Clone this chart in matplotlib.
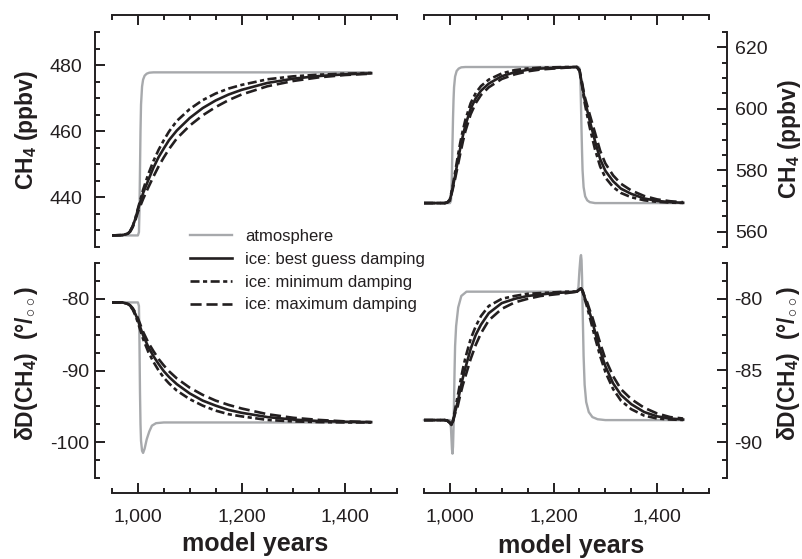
import matplotlib
matplotlib.use('Agg')
import matplotlib.pyplot as plt
import matplotlib.ticker as mticker

# ---- data ------------------------------------------------------------
# top left: CH4 step (ppbv)
atm_tl_years = [950, 1000, 1002, 1003, 1004, 1005, 1006, 1008, 1010, 1013, 1017, 1022, 1030, 1450]
atm_tl = [428.5, 428.5, 429.5, 436, 448, 460, 468, 473.5, 475.6, 476.8, 477.4, 477.7, 477.8, 477.8]

ice_left_years = [950, 970, 980, 985, 990, 995, 1000, 1010, 1020, 1030, 1040, 1050, 1060,
                  1075, 1100, 1125, 1150, 1175, 1200, 1250, 1300, 1350, 1400, 1450]
ch4_tl_best = [428.5, 428.6, 429.0, 429.8, 431.3, 433.5, 436.3, 441.3, 445.2, 449.0, 452.2, 454.8, 457.3,
               460.2, 464.0, 467.0, 469.3, 471.1, 472.5, 474.6, 475.9, 476.7, 477.2, 477.5]
ch4_tl_min = [428.5, 428.6, 429.0, 429.8, 431.3, 433.6, 436.6, 442.3, 447.0, 451.0, 454.4, 457.3, 459.9,
              463.1, 466.7, 469.4, 471.4, 472.9, 474.0, 475.7, 476.6, 477.1, 477.4, 477.6]
ch4_tl_max = [428.5, 428.6, 428.9, 429.6, 431.0, 433.0, 435.6, 439.5, 443.0, 446.3, 449.4, 452.1, 454.6,
              457.8, 461.7, 464.8, 467.3, 469.4, 471.1, 473.6, 475.2, 476.3, 477.0, 477.4]

# bottom left: dD(CH4) step (permil)
atm_bl_years = [950, 1000, 1002, 1003, 1004, 1005, 1006, 1008, 1010, 1013, 1017, 1022, 1027, 1035, 1050, 1450]
atm_bl = [-80.5, -80.5, -81.0, -86.0, -93.0, -97.5, -99.8, -101.2, -101.5, -100.9, -99.6, -98.5, -97.7,
          -97.35, -97.25, -97.25]
dd_bl_best = [-80.5, -80.5, -80.7, -80.95, -81.4, -82.1, -83.0, -85.1, -86.7, -88.0, -89.1, -90.1, -90.9,
              -91.9, -93.2, -94.2, -94.9, -95.5, -95.9, -96.5, -96.85, -97.05, -97.15, -97.2]
dd_bl_min = [-80.5, -80.5, -80.7, -81.0, -81.5, -82.3, -83.3, -85.6, -87.4, -88.8, -90.0, -91.0, -91.8,
             -92.8, -94.0, -94.9, -95.6, -96.1, -96.4, -96.9, -97.1, -97.2, -97.25, -97.25]
dd_bl_max = [-80.5, -80.5, -80.65, -80.9, -81.3, -81.9, -82.7, -84.6, -86.1, -87.3, -88.4, -89.3, -90.1,
             -91.1, -92.4, -93.4, -94.2, -94.8, -95.3, -96.1, -96.6, -96.9, -97.1, -97.2]

# top right: CH4 pulse (ppbv)
atm_tr_years = [950, 1000, 1002, 1003, 1004, 1005, 1006, 1007, 1008, 1010, 1013, 1017, 1022, 1030,
                1248, 1250, 1251, 1252, 1253, 1254, 1255, 1256, 1258, 1261, 1265, 1270, 1280, 1450]
atm_tr = [569.3, 569.3, 570, 573, 580, 589, 597, 603, 607, 610.5, 612.3, 613.1, 613.5, 613.6,
          613.6, 613.2, 612, 608, 601, 593, 586, 580, 574.5, 571.5, 570.2, 569.6, 569.3, 569.3]

ice_right_years = [950, 990, 995, 1000, 1005, 1010, 1015, 1020, 1025, 1030, 1040, 1050, 1060, 1075,
                   1100, 1125, 1150, 1175, 1200, 1225, 1245, 1250, 1255, 1260, 1265, 1270, 1280,
                   1290, 1300, 1315, 1330, 1350, 1375, 1400, 1425, 1450]
ch4_tr_best = [569.3, 569.3, 569.5, 570.3, 574.0, 578.2, 582.8, 587.2, 591.2, 594.7, 600.0, 603.5, 605.9,
               608.2, 610.6, 611.9, 612.7, 613.1, 613.3, 613.5, 613.6, 612.5, 608.0, 603.0, 599.5,
               596.0, 589.5, 583.6, 579.8, 576.4, 574.0, 572.3, 570.8, 570.0, 569.6, 569.4]
ch4_tr_min = [569.3, 569.3, 569.5, 570.5, 574.5, 579.3, 584.3, 589.0, 593.0, 596.5, 601.8, 605.2, 607.4,
              609.5, 611.5, 612.6, 613.1, 613.4, 613.5, 613.6, 613.6, 612.3, 607.5, 602.0, 597.8,
              593.8, 586.8, 581.2, 577.6, 574.5, 572.6, 571.2, 570.2, 569.7, 569.45, 569.35]
ch4_tr_max = [569.3, 569.3, 569.5, 570.1, 573.5, 577.2, 581.3, 585.4, 589.3, 592.8, 598.2, 601.9, 604.5,
              607.0, 609.7, 611.2, 612.2, 612.8, 613.1, 613.4, 613.6, 612.7, 608.5, 604.0, 601.0,
              598.0, 592.2, 586.3, 582.2, 578.3, 575.6, 573.4, 571.6, 570.5, 569.9, 569.6]

# bottom right: dD(CH4) pulse (permil)
atm_br_years = [950, 1000, 1002, 1004, 1005, 1006, 1007, 1008, 1009, 1010, 1012, 1016, 1022, 1032,
                1245, 1248, 1250, 1252, 1253, 1254, 1255, 1256, 1258, 1260, 1263, 1268, 1275, 1285,
                1300, 1450]
atm_br = [-88.46, -88.46, -89.0, -90.5, -90.8, -90.3, -89.0, -87.0, -85.0, -83.3, -81.9, -80.6, -79.8,
          -79.5, -79.5, -79.2, -78.0, -77.1, -76.95, -77.3, -78.5, -80.5, -84.0, -86.0, -87.2, -87.9,
          -88.25, -88.4, -88.46, -88.46]

ice_br_years = [950, 990, 995, 1000, 1003, 1006, 1010, 1015, 1020, 1025, 1030, 1040, 1050, 1060, 1075,
                1100, 1125, 1150, 1175, 1200, 1225, 1245, 1250, 1253, 1256, 1260, 1265, 1270, 1275,
                1280, 1290, 1300, 1315, 1330, 1350, 1375, 1400, 1425, 1450]
dd_br_best = [-88.46, -88.46, -88.5, -88.65, -88.8, -88.5, -87.9, -87.2, -86.3, -85.5, -84.8, -83.5,
              -82.5, -81.8, -81.0, -80.3, -80.0, -79.8, -79.7, -79.6, -79.55, -79.5, -79.35, -79.27,
              -79.45, -79.9, -80.4, -81.0, -81.6, -82.3, -83.6, -84.7, -85.9, -86.7, -87.35, -87.9,
              -88.2, -88.35, -88.42]
dd_br_min = [-88.46, -88.46, -88.5, -88.65, -88.8, -88.45, -87.7, -86.8, -85.8, -84.9, -84.1, -82.8,
             -81.9, -81.2, -80.5, -80.0, -79.8, -79.65, -79.6, -79.55, -79.5, -79.5, -79.35, -79.27,
             -79.5, -80.0, -80.6, -81.3, -82.0, -82.7, -84.0, -85.1, -86.3, -87.1, -87.7, -88.15,
             -88.35, -88.42, -88.45]
dd_br_max = [-88.46, -88.46, -88.5, -88.65, -88.8, -88.55, -88.0, -87.5, -86.7, -86.0, -85.4, -84.2,
             -83.2, -82.4, -81.5, -80.7, -80.25, -80.0, -79.8, -79.7, -79.6, -79.5, -79.35, -79.27,
             -79.42, -79.85, -80.25, -80.8, -81.3, -81.9, -83.1, -84.2, -85.4, -86.3, -87.0, -87.6,
             -88.0, -88.25, -88.35]

legend_labels = ['atmosphere', 'ice: best guess damping', 'ice: minimum damping', 'ice: maximum damping']

# ---- style -------------------------------------------------------------
INK = '#231f20'
GRAY = '#a7a9ac'
plt.rcParams['font.family'] = ['Liberation Sans', 'DejaVu Sans']
plt.rcParams['mathtext.fontset'] = 'custom'
plt.rcParams['mathtext.rm'] = 'Liberation Sans:bold'
plt.rcParams['mathtext.it'] = 'Liberation Sans:bold'
plt.rcParams['mathtext.bf'] = 'Liberation Sans:bold'
plt.rcParams['lines.scale_dashes'] = False

W, H = 803, 559
fig = plt.figure(figsize=(W / 100, H / 100), dpi=100)


def box(x0, y0, x1, y1):
    # pixel box -> figure fraction
    return [x0 / W, 1 - y1 / H, (x1 - x0) / W, (y1 - y0) / H]


def style(ax, xside, yside, ypad, xoff, yoff):
    for s in ['top', 'bottom', 'left', 'right']:
        ax.spines[s].set_visible(s in (xside, yside))
        ax.spines[s].set_linewidth(1.4)
        ax.spines[s].set_color(INK)
    ax.spines[xside].set_position(('outward', xoff))
    ax.spines[yside].set_position(('outward', yoff))
    ax.xaxis.set_ticks_position(xside)
    ax.yaxis.set_ticks_position(yside)
    ax.set_xlim(950, 1500)
    ax.xaxis.set_major_locator(mticker.MultipleLocator(200))
    ax.xaxis.set_minor_locator(mticker.MultipleLocator(50))
    ax.xaxis.set_major_formatter(mticker.StrMethodFormatter('{x:,.0f}'))
    ax.tick_params(which='both', direction='in', width=1.4, color=INK, labelcolor=INK, labelsize=14)
    ax.tick_params(which='major', length=7.5)
    ax.tick_params(which='minor', length=3.8)
    ax.tick_params(axis='y', pad=ypad)
    ax.tick_params(axis='x', pad=11.5)
    if xside == 'top':
        ax.tick_params(axis='x', labeltop=False, labelbottom=False)
    ax.patch.set_visible(False)


def draw(ax, ay, av, iy, best, mn, mx, clip=True):
    ax.plot(ay, av, color=GRAY, lw=1.7, clip_on=clip, zorder=2)
    ax.plot(iy, best, color=INK, lw=1.9, zorder=3)
    ax.plot(iy, mn, color=INK, lw=1.9, dashes=(6.5, 2.5, 3, 2.5), zorder=3)
    ax.plot(iy, mx, color=INK, lw=1.9, dashes=(8, 3.5), zorder=3)


ax_tl = fig.add_axes(box(112, 32, 397, 247))
ax_tr = fig.add_axes(box(424, 32, 709, 247))
ax_bl = fig.add_axes(box(112, 263, 397, 478))
ax_br = fig.add_axes(box(424, 263, 709, 478))

style(ax_tl, 'top', 'left', 9.0, 12.2, 12.2)
style(ax_tr, 'top', 'right', 6.0, 12.2, 13.0)
style(ax_bl, 'bottom', 'left', 4.0, 10.8, 12.2)
style(ax_br, 'bottom', 'right', 4.8, 10.8, 13.0)

ax_tl.set_ylim(425, 490)
ax_tl.yaxis.set_major_locator(mticker.MultipleLocator(20))
ax_tl.yaxis.set_minor_locator(mticker.MultipleLocator(5))
ax_tr.set_ylim(555, 625)
ax_tr.yaxis.set_major_locator(mticker.MultipleLocator(20))
ax_tr.yaxis.set_minor_locator(mticker.MultipleLocator(5))
ax_bl.set_ylim(-105, -75)
ax_bl.yaxis.set_major_locator(mticker.MultipleLocator(10))
ax_bl.yaxis.set_minor_locator(mticker.MultipleLocator(2.5))
ax_br.set_ylim(-92.5, -77.5)
ax_br.yaxis.set_major_locator(mticker.MultipleLocator(5))
ax_br.yaxis.set_minor_locator(mticker.MultipleLocator(1.25))
for ax in (ax_bl, ax_br):
    ax.yaxis.set_major_formatter(mticker.FuncFormatter(lambda v, p: '%g' % v))

draw(ax_tl, atm_tl_years, atm_tl, ice_left_years, ch4_tl_best, ch4_tl_min, ch4_tl_max)
draw(ax_bl, atm_bl_years, atm_bl, ice_left_years, dd_bl_best, dd_bl_min, dd_bl_max)
draw(ax_tr, atm_tr_years, atm_tr, ice_right_years, ch4_tr_best, ch4_tr_min, ch4_tr_max)
draw(ax_br, atm_br_years, atm_br, ice_br_years, dd_br_best, dd_br_min, dd_br_max, clip=False)

# axis titles
ch4_label = 'CH$_4$ (ppbv)'
dd_label = 'δD(CH$_4$)  (°/$_{\\circ\\circ}$)'
lab = dict(rotation=90, ha='center', va='center', fontsize=16.5, fontweight='bold', color=INK)
fig.text(27 / W, 1 - 130 / H, ch4_label, **lab)
fig.text(27 / W, 1 - 363 / H, dd_label, **lab)
fig.text(790 / W, 1 - 139 / H, ch4_label, **lab)
fig.text(789 / W, 1 - 363 / H, dd_label, **lab)
fig.text(255 / W, 1 - 544 / H, 'model years', ha='center', va='center',
         fontsize=18, fontweight='bold', color=INK)
fig.text(571 / W, 1 - 546 / H, 'model years', ha='center', va='center',
         fontsize=18, fontweight='bold', color=INK)

leg = fig.legend(ax_tl.get_lines(), legend_labels, loc='upper left',
                 bbox_to_anchor=(190 / W, 1 - 229 / H), frameon=False, fontsize=12,
                 handlelength=2.5, handletextpad=0.8, labelspacing=0.47,
                 borderpad=0, borderaxespad=0)
for t in leg.get_texts():
    t.set_color(INK)

fig.savefig('out.png', dpi=100)
